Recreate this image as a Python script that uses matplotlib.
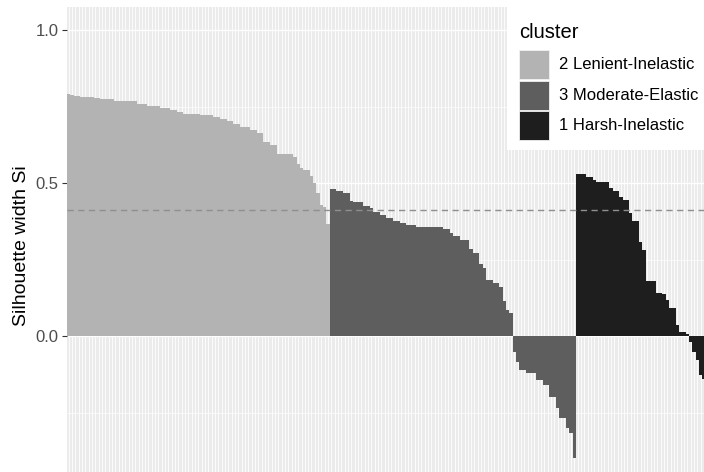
import numpy as np
import matplotlib
matplotlib.use("Agg")
import matplotlib.pyplot as plt
from matplotlib.patches import Rectangle

plt.rcParams["font.family"] = ["Liberation Sans", "DejaVu Sans"]

# silhouette widths per observation, sorted within each cluster
sil_lenient = [
    0.790, 0.789, 0.785, 0.785, 0.782, 0.782, 0.781, 0.781, 0.777, 0.777,
    0.773, 0.773, 0.773, 0.773, 0.768, 0.768, 0.768, 0.768, 0.768, 0.768,
    0.768, 0.758, 0.758, 0.758, 0.752, 0.752, 0.752, 0.752, 0.746, 0.746,
    0.746, 0.739, 0.739, 0.732, 0.732, 0.726, 0.726, 0.726, 0.726, 0.726,
    0.721, 0.721, 0.721, 0.721, 0.717, 0.717, 0.709, 0.709, 0.704, 0.704,
    0.692, 0.692, 0.684, 0.684, 0.684, 0.673, 0.673, 0.662, 0.662, 0.635,
    0.635, 0.624, 0.624, 0.595, 0.595, 0.595, 0.595, 0.595, 0.586, 0.562,
    0.548, 0.542, 0.542, 0.523, 0.499, 0.466, 0.429, 0.423, 0.366,
]
sil_moderate = [
    0.479, 0.479, 0.475, 0.475, 0.466, 0.466, 0.442, 0.438, 0.438, 0.438,
    0.425, 0.425, 0.417, 0.405, 0.405, 0.396, 0.396, 0.387, 0.387, 0.376,
    0.376, 0.368, 0.368, 0.363, 0.363, 0.363, 0.357, 0.357, 0.357, 0.357,
    0.357, 0.357, 0.357, 0.357, 0.351, 0.351, 0.336, 0.328, 0.328, 0.313,
    0.313, 0.313, 0.285, 0.270, 0.270, 0.234, 0.221, 0.183, 0.183, 0.172,
    0.172, 0.161, 0.115, 0.085, 0.074,
    -0.051, -0.084, -0.111, -0.111, -0.122, -0.122, -0.122, -0.144, -0.144,
    -0.160, -0.160, -0.198, -0.198, -0.236, -0.269, -0.269, -0.302, -0.318,
    -0.400,
]
sil_harsh = [
    0.529, 0.529, 0.529, 0.519, 0.519, 0.510, 0.503, 0.503, 0.503, 0.503,
    0.483, 0.475, 0.475, 0.455, 0.444, 0.444, 0.403, 0.377, 0.377, 0.308,
    0.281, 0.181, 0.181, 0.181, 0.142, 0.142, 0.137, 0.118, 0.090, 0.090,
    0.036, 0.014, 0.014, 0.007, -0.019, -0.051, -0.078, -0.127, -0.140,
]
avg_width = 0.413

cluster_names = ["2 Lenient-Inelastic", "3 Moderate-Elastic", "1 Harsh-Inelastic"]
cluster_colors = ["#b3b3b3", "#5e5e5e", "#1e1e1e"]
groups = [sil_lenient, sil_moderate, sil_harsh]

W, H = 704, 472
fig = plt.figure(figsize=(W / 100, H / 100), dpi=100)

# panel placement in pixels
px_left, px_top = 67, 7
ax = fig.add_axes([px_left / W, 0, (W - px_left) / W, (H - px_top) / H])
ax.set_facecolor("#ebebeb")
for s in ax.spines.values():
    s.set_visible(False)

# bars, one per observation
start = 0
for vals, col in zip(groups, cluster_colors):
    x = np.arange(start, start + len(vals))
    ax.bar(x, vals, width=1.0, color=col, linewidth=0, zorder=2)
    start += len(vals)
n_obs = start

ax.axhline(avg_width, color="#8f8f8f", lw=1.0, dashes=(4.5, 3.2), zorder=3)

pitch = 3.33
ax.set_xlim(-0.5, -0.5 + (W - px_left) / pitch)
ax.set_ylim(-(H - 336) / 306, (336 - px_top) / 306)

# grid
ax.set_xticks(np.arange(n_obs))
ax.set_xticklabels([])
ax.tick_params(axis="x", length=0)
ax.set_yticks([0.0, 0.5, 1.0])
ax.set_yticklabels(["0.0", "0.5", "1.0"])
ax.set_yticks([-0.25, 0.25, 0.75], minor=True)
ax.grid(axis="x", which="major", color="white", lw=0.6, zorder=0)
ax.grid(axis="y", which="major", color="white", lw=1.0, zorder=0)
ax.grid(axis="y", which="minor", color="white", lw=0.5, zorder=0)
ax.set_axisbelow(True)
ax.tick_params(axis="y", which="major", length=3.5, width=0.8, color="#333333",
               labelsize=12, labelcolor="#4d4d4d", pad=2.5)
ax.tick_params(axis="y", which="minor", length=0)

fig.text(22 / W, 1 - 246 / H, "Silhouette width Si", rotation=90,
         ha="center", va="center", fontsize=14, color="black")

# legend box
def fx(x):
    return x / W

def fy(y):
    return 1 - y / H

fig.add_artist(Rectangle((fx(507), fy(150)), fx(W - 507 + 5), (150 - 7) / H,
                         transform=fig.transFigure, facecolor="white",
                         edgecolor="none", zorder=5))
fig.text(fx(519), fy(32), "cluster", ha="left", va="center",
         fontsize=14.5, color="black", zorder=6)
key_tops = [50, 80.5, 111]
for top, name, col in zip(key_tops, cluster_names, cluster_colors):
    fig.add_artist(Rectangle((fx(519), fy(top + 29)), fx(30), 29 / H,
                             transform=fig.transFigure, facecolor=col,
                             edgecolor="#f2f2f2", lw=0.6, zorder=6))
    fig.text(fx(559), fy(top + 14.5), name, ha="left", va="center",
             fontsize=12, color="black", zorder=6)

fig.savefig("out.png", dpi=100)
